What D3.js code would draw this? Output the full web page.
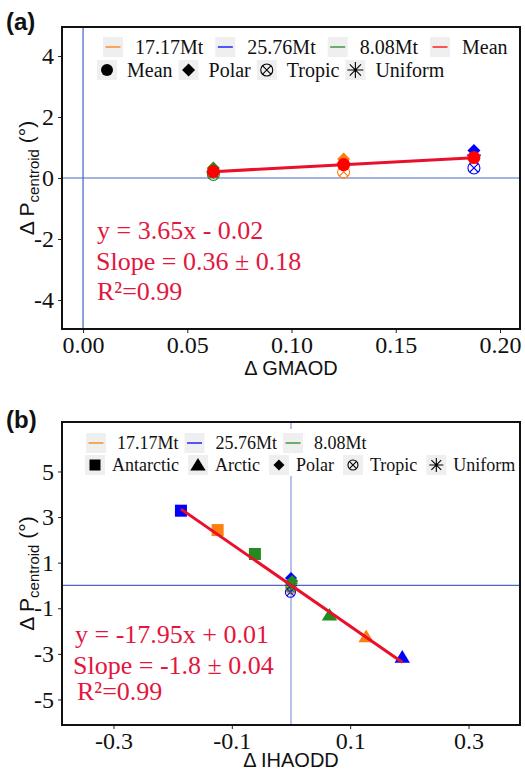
<!DOCTYPE html>
<html>
<head>
<meta charset="utf-8">
<script src="https://cdn.jsdelivr.net/npm/d3@7"></script>
<style>
  body { margin: 0; background: #fff; }
  svg { display: block; }
</style>
</head>
<body>
<svg width="525" height="773"></svg>
<script>
// ---- data ----
const masses = ["17.17Mt", "25.76Mt", "8.08Mt"];
const massColors = ["#ff7f0e", "#0000ff", "#228b22"];

// panel (a): x = delta GMAOD, y = delta P centroid
const gmaod    = [0.125, 0.1875, 0.0625];
const polarA   = [0.62, 0.90, 0.33];
const tropicA  = [0.20, 0.33, 0.12];
const uniformA = [0.48, 0.75, 0.20];
const meanA    = [0.44, 0.67, 0.21];
const fitA     = [3.65, -0.02];
const textA    = ["y = 3.65x - 0.02", "Slope = 0.36 \u00b1 0.18", "R\u00b2=0.99"];
const xTicksA  = [0, 0.05, 0.10, 0.15, 0.20];
const yTicksA  = [-4, -2, 0, 2, 4];

// panel (b): x = delta IHAODD
const antarcticX = [-0.124, -0.186, -0.061];
const antarcticY = [2.43, 3.28, 1.38];
const arcticX    = [0.127, 0.188, 0.065];
const arcticY    = [-2.24, -3.14, -1.29];
const polarBX    = [0.001, 0.0, 0.002];
const polarBY    = [0.15, 0.33, 0.20];
const tropicBX   = [0.0, -0.001, 0.0];
const tropicBY   = [-0.15, -0.30, -0.08];
const uniformBX  = [0.0, 0.0, 0.001];
const uniformBY  = [0.05, 0.0, 0.08];
const fitB       = [-17.95, 0.01];
const textB      = ["y = -17.95x + 0.01", "Slope = -1.8 \u00b1 0.04", "R\u00b2=0.99"];
const xTicksB    = [-0.3, -0.1, 0.1, 0.3];
const yTicksB    = [-5, -3, -1, 1, 3, 5];

const legendShapesA = [["circle", "Mean"], ["diamond", "Polar"], ["tropic", "Tropic"], ["uniform", "Uniform"]];
const legendShapesB = [["square", "Antarctic"], ["triangle", "Arctic"], ["diamond", "Polar"], ["tropic", "Tropic"], ["uniform", "Uniform"]];

const serif = "'Liberation Serif', 'Times New Roman', serif";
const sans = "'Liberation Sans', Arial, sans-serif";
const fitColor = "#e8102a";
const annColor = "#e3173e";
const refColor = "#3a58c4";

const svg = d3.select("svg");

// ---- symbol helper ----
function sym(g, type, cx, cy, s, color) {
  if (type === "circle") {
    g.append("circle").attr("cx", cx).attr("cy", cy).attr("r", s).attr("fill", color);
  } else if (type === "diamond") {
    g.append("path").attr("d", `M${cx},${cy - s}L${cx + s},${cy}L${cx},${cy + s}L${cx - s},${cy}Z`).attr("fill", color);
  } else if (type === "square") {
    g.append("rect").attr("x", cx - s).attr("y", cy - s).attr("width", 2 * s).attr("height", 2 * s).attr("fill", color);
  } else if (type === "triangle") {
    g.append("path").attr("d", `M${cx},${cy - s}L${cx + s * 1.1},${cy + s * 0.8}L${cx - s * 1.1},${cy + s * 0.8}Z`).attr("fill", color);
  } else if (type === "tropic") {
    g.append("circle").attr("cx", cx).attr("cy", cy).attr("r", s)
      .attr("fill", "none").attr("stroke", color).attr("stroke-width", 1.1);
    const k = s * 0.72;
    g.append("path").attr("d", `M${cx - k},${cy - k}L${cx + k},${cy + k}M${cx - k},${cy + k}L${cx + k},${cy - k}`)
      .attr("stroke", color).attr("stroke-width", 1.1);
  } else if (type === "uniform") {
    const k = s * 0.7;
    g.append("path").attr("d",
      `M${cx - s},${cy}L${cx + s},${cy}M${cx},${cy - s}L${cx},${cy + s}` +
      `M${cx - k},${cy - k}L${cx + k},${cy + k}M${cx - k},${cy + k}L${cx + k},${cy - k}`)
      .attr("stroke", color).attr("stroke-width", 1.1).attr("fill", "none");
  } else if (type === "line") {
    g.append("line").attr("x1", cx - 7.5).attr("x2", cx + 7.5).attr("y1", cy).attr("y2", cy)
      .attr("stroke", color).attr("stroke-width", 1.3);
  }
}

function legendRow(g, items, o) {
  let x = o.x0;
  items.forEach(it => {
    g.append("rect").attr("x", x).attr("y", o.y - 10).attr("width", o.keyW).attr("height", 20).attr("fill", "#efefef");
    sym(g, it.type, x + o.keyW / 2, o.y, it.size, it.color);
    const t = g.append("text")
      .attr("x", x + o.keyW + o.gap1).attr("y", o.y).attr("dy", "0.35em")
      .attr("font-family", serif).attr("font-size", o.fs).attr("fill", "#111")
      .text(it.label);
    x += o.keyW + o.gap1 + t.node().getComputedTextLength() + o.gap2;
  });
}

function panel(cfg) {
  const g = svg.append("g");
  const x = d3.scaleLinear().domain(cfg.xDomain).range([62, 520]);
  const y = d3.scaleLinear().domain(cfg.yDomain).range([cfg.bottom, cfg.top]);

  // reference lines
  g.append("line").attr("x1", 62).attr("x2", 520).attr("y1", y(0)).attr("y2", y(0))
    .attr("stroke", refColor).attr("stroke-width", 1.2).attr("opacity", 0.9);
  g.append("line").attr("x1", x(0)).attr("x2", x(0)).attr("y1", cfg.top).attr("y2", cfg.bottom)
    .attr("stroke", refColor).attr("stroke-width", 1.2).attr("opacity", cfg.vOpacity);

  // legend
  const lg = g.append("g");
  lg.append("rect").attr("x", cfg.legBox[0]).attr("y", cfg.legBox[1])
    .attr("width", cfg.legBox[2]).attr("height", cfg.legBox[3]).attr("fill", "#fff");
  legendRow(lg, cfg.row1, cfg.row1Opts);
  legendRow(lg, cfg.row2, cfg.row2Opts);

  // axes
  const xa = g.append("g").attr("transform", `translate(0,${cfg.bottom})`)
    .call(d3.axisBottom(x).tickValues(cfg.xTicks).tickSize(4).tickPadding(3).tickFormat(cfg.xFmt));
  const ya = g.append("g").attr("transform", "translate(62,0)")
    .call(d3.axisLeft(y).tickValues(cfg.yTicks).tickSize(4).tickPadding(4).tickFormat(d => String(d)));
  [xa, ya].forEach(a => {
    a.select(".domain").remove();
    a.selectAll("text").attr("font-family", serif).attr("font-size", 24).attr("fill", "#111");
    a.selectAll("line").attr("stroke", "#222");
  });

  // frame
  g.append("rect").attr("x", 62).attr("y", cfg.top).attr("width", 458).attr("height", cfg.bottom - cfg.top)
    .attr("fill", "none").attr("stroke", "#111").attr("stroke-width", 2);

  // titles
  g.append("text").attr("x", 291).attr("y", cfg.xTitleY).attr("text-anchor", "middle")
    .attr("font-family", sans).attr("font-size", 20).attr("fill", "#111").text(cfg.xTitle);
  const yl = g.append("text")
    .attr("transform", `translate(34,${(cfg.top + cfg.bottom) / 2}) rotate(-90)`)
    .attr("text-anchor", "middle").attr("font-family", sans).attr("font-size", 21).attr("fill", "#111");
  yl.append("tspan").text("\u0394 P");
  yl.append("tspan").attr("font-size", 15).attr("dy", 5).text("centroid");
  yl.append("tspan").attr("dy", -5).text(" (\u00b0)");
  g.append("text").attr("x", 6).attr("y", cfg.labelY).attr("font-family", sans)
    .attr("font-weight", "bold").attr("font-size", 24).attr("fill", "#111").text(cfg.label);

  // annotation
  cfg.text.forEach((t, i) => {
    g.append("text").attr("x", cfg.textX[i]).attr("y", cfg.textY[i])
      .attr("font-family", serif).attr("font-size", 26).attr("fill", annColor).text(t);
  });

  return { g, x, y };
}

// ---- panel (a) ----
const pa = panel({
  xDomain: [-0.0101, 0.2096], yDomain: [-4.95, 4.95], top: 27, bottom: 329,
  xTicks: xTicksA, yTicks: yTicksA, xFmt: d => d.toFixed(2),
  xTitle: "\u0394 GMAOD", xTitleY: 375, label: "(a)", labelY: 30, vOpacity: 0.95,
  legBox: [96, 34, 420, 48],
  row1: masses.map((m, i) => ({ type: "line", label: m, color: massColors[i], size: 0 }))
    .concat([{ type: "line", label: "Mean", color: "#ff0000", size: 0 }]),
  row1Opts: { x0: 103, y: 47, keyW: 20, gap1: 12, gap2: 12, fs: 20 },
  row2: legendShapesA.map(([t, l]) => ({ type: t, label: l, color: "#000",
    size: { circle: 6, diamond: 6.5, tropic: 6, uniform: 8 }[t] })),
  row2Opts: { x0: 97, y: 70, keyW: 20, gap1: 10, gap2: 6, fs: 20 },
  text: textA, textX: [97, 96, 97], textY: [239, 270, 300]
});

{
  const { g, x, y } = pa;
  const m = g.append("g");
  gmaod.forEach((gx, i) => {
    sym(m, "uniform", x(gx), y(uniformA[i]), 7, massColors[i]);
    sym(m, "tropic", x(gx), y(tropicA[i]), 6, massColors[i]);
    sym(m, "diamond", x(gx), y(polarA[i]), 6.5, massColors[i]);
  });
  const ext = d3.extent(gmaod);
  g.append("line")
    .attr("x1", x(ext[0])).attr("y1", y(fitA[0] * ext[0] + fitA[1]))
    .attr("x2", x(ext[1])).attr("y2", y(fitA[0] * ext[1] + fitA[1]))
    .attr("stroke", fitColor).attr("stroke-width", 3);
  const mm = g.append("g");
  gmaod.forEach((gx, i) => sym(mm, "circle", x(gx), y(meanA[i]), 6.5, "#ff0000"));
}

// ---- panel (b) ----
const pb = panel({
  xDomain: [-0.387, 0.387], yDomain: [-6.12, 7.17], top: 422, bottom: 725,
  xTicks: xTicksB, yTicks: yTicksB, xFmt: d => d.toFixed(1),
  xTitle: "\u0394 IHAODD", xTitleY: 767, label: "(b)", labelY: 428, vOpacity: 0.6,
  legBox: [80, 429, 436, 47],
  row1: masses.map((m, i) => ({ type: "line", label: m, color: massColors[i], size: 0 })),
  row1Opts: { x0: 86, y: 443, keyW: 20, gap1: 11, gap2: 6, fs: 18 },
  row2: legendShapesB.map(([t, l]) => ({ type: t, label: l, color: "#000",
    size: { square: 5.5, triangle: 7, diamond: 5.5, tropic: 5, uniform: 7 }[t] })),
  row2Opts: { x0: 85, y: 465, keyW: 20, gap1: 7, gap2: 9, fs: 18 },
  text: textB, textX: [75, 73, 77], textY: [643, 674, 700]
});

{
  const { g, x, y } = pb;
  const m = g.append("g");
  masses.forEach((_, i) => {
    sym(m, "uniform", x(uniformBX[i]), y(uniformBY[i]), 6, massColors[i]);
    sym(m, "tropic", x(tropicBX[i]), y(tropicBY[i]), 5, massColors[i]);
    sym(m, "diamond", x(polarBX[i]), y(polarBY[i]), 6, massColors[i]);
    sym(m, "square", x(antarcticX[i]), y(antarcticY[i]), 6, massColors[i]);
    sym(m, "triangle", x(arcticX[i]), y(arcticY[i]), 7, massColors[i]);
  });
  const allX = antarcticX.concat(arcticX);
  const ext = d3.extent(allX);
  g.append("line")
    .attr("x1", x(ext[0])).attr("y1", y(fitB[0] * ext[0] + fitB[1]))
    .attr("x2", x(ext[1])).attr("y2", y(fitB[0] * ext[1] + fitB[1]))
    .attr("stroke", fitColor).attr("stroke-width", 3);
}
</script>
</body>
</html>
